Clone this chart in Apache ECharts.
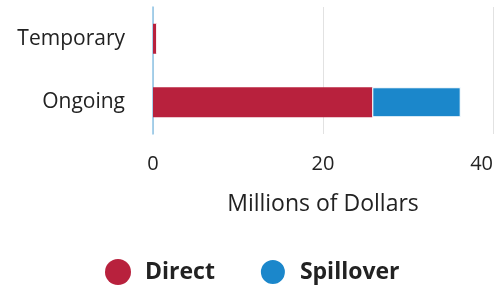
<!DOCTYPE html>
<html>
<head>
<meta charset="utf-8">
<script src="https://cdn.jsdelivr.net/npm/echarts@6/dist/echarts.min.js"></script>
<style>html,body{margin:0;padding:0;background:#fff;}#c{width:496px;height:285px;}</style>
</head>
<body>
<div id="c"></div>
<script>
var categories = ['Temporary', 'Ongoing'];
var directValues = [0.45, 25.8];
var spilloverValues = [0, 10.4];
var xTicks = [0, 20, 40];

var chart = echarts.init(document.getElementById('c'), null, {renderer: 'canvas'});
chart.setOption({
  animation: false,
  textStyle: {fontFamily: 'Open Sans'},
  grid: {left: 153, right: 0, top: 7, height: 127, containLabel: false},
  xAxis: {
    type: 'value', min: xTicks[0], max: xTicks[xTicks.length - 1], interval: xTicks[1] - xTicks[0],
    axisLine: {show: false}, axisTick: {show: false},
    splitLine: {show: true, lineStyle: {color: '#e2e2e2', width: 1}},
    axisLabel: {fontSize: 20, color: '#222', margin: 20, alignMaxLabel: 'right', fontFamily: 'Open Sans'},
    name: 'Millions of Dollars', nameLocation: 'middle', nameGap: 59,
    nameTextStyle: {fontSize: 23, color: '#222', fontFamily: 'Open Sans'}
  },
  yAxis: {
    type: 'category', data: categories, inverse: true,
    axisLine: {show: true, lineStyle: {color: '#8cc3e6', width: 1.5}},
    axisTick: {show: false},
    axisLabel: {fontSize: 21, color: '#222', margin: 28, fontFamily: 'Open Sans'}
  },
  legend: {
    top: 253, left: 100, itemWidth: 26, itemHeight: 26, itemGap: 44,
    icon: 'circle',
    textStyle: {fontSize: 23, fontWeight: 'bold', color: '#222', fontFamily: 'Open Sans', padding: [0, 0, 0, 9]},
    data: ['Direct', 'Spillover']
  },
  series: [
    {name: 'Direct', type: 'bar', stack: 't', data: directValues, barWidth: 30,
     itemStyle: {color: '#b8213d'}},
    {name: 'Spillover', type: 'bar', stack: 't', data: spilloverValues, barWidth: 30,
     itemStyle: {color: '#1b87cb', borderColor: '#fff', borderWidth: 1}}
  ]
});
</script>
</body>
</html>
